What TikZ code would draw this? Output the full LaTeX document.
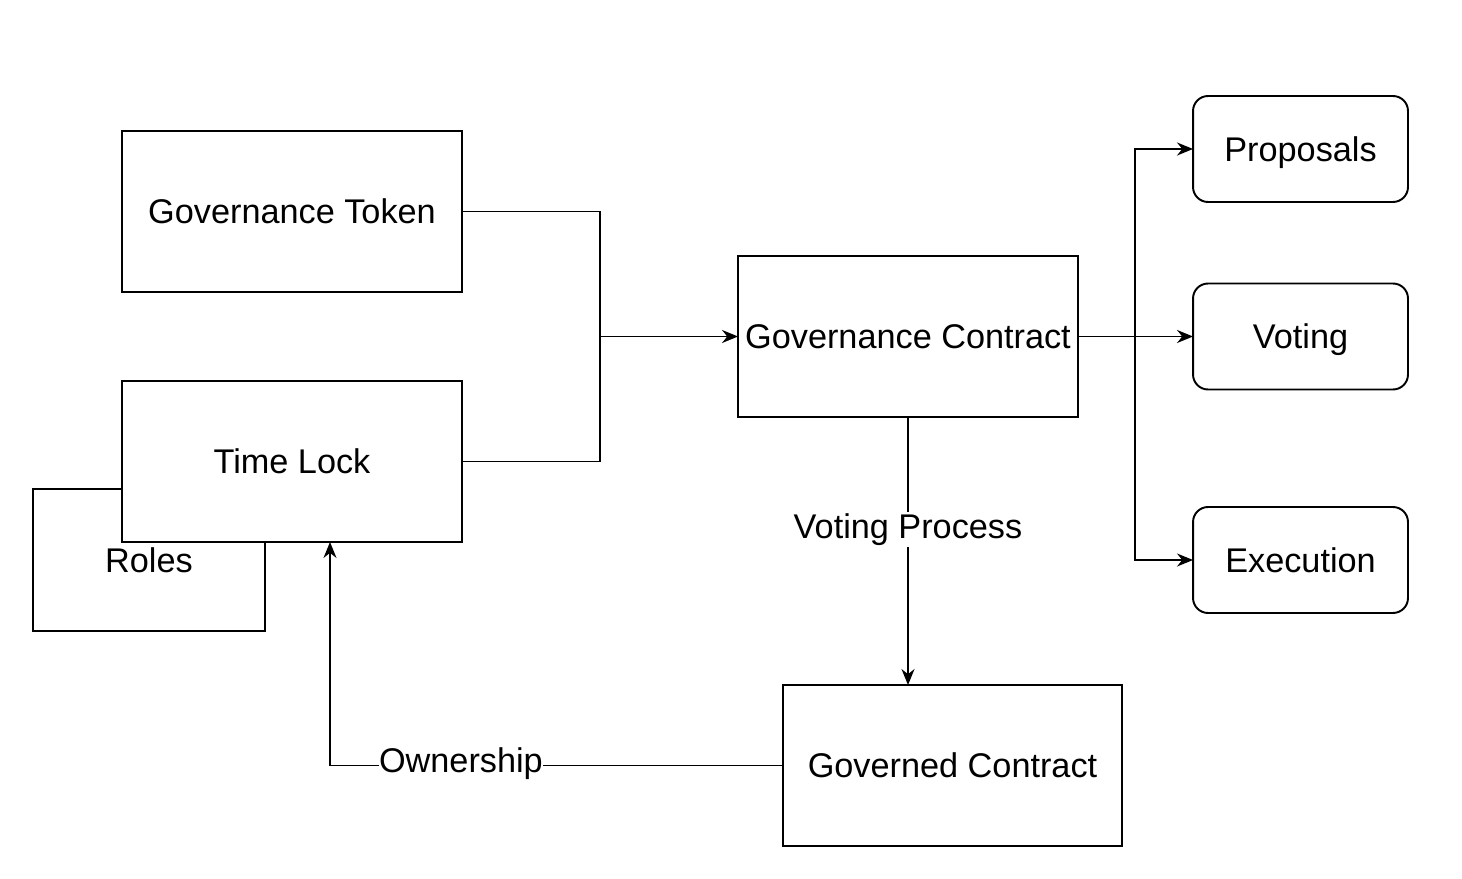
\documentclass[tikz,border=0pt]{standalone}
\usepackage{fontspec}
\setmainfont{Liberation Sans}
\usetikzlibrary{arrows.meta}
\begin{document}
\begin{tikzpicture}[x=0.02cm,y=-0.02cm,
  box/.style={draw,line width=1.1pt,fill=white,inner sep=0pt,outer sep=0pt,
    minimum width=6.8cm,minimum height=3.22cm,font=\fontsize{19.5}{22}\selectfont,
    text height=14pt,text depth=0pt},
  rbox/.style={box,rounded corners=0.3cm,minimum width=4.3cm,minimum height=2.12cm},
  conn/.style={line width=1.1pt},
  arr/.style={conn,-{Stealth[length=0.32cm,width=0.26cm]}},
  lbl/.style={fill=white,inner sep=1pt,font=\fontsize{19.5}{22}\selectfont,
    text height=14pt,text depth=4pt}]
\useasboundingbox (0,0) rectangle (1462,878);
\node[box,minimum width=4.64cm,minimum height=2.84cm] (roles) at (149,560) {Roles};
\node[box] (gt) at (292,211.5) {Governance Token};
\node[box] (tl) at (292,461.5) {Time Lock};
\node[box] (gc) at (908,336.5) {Governance Contract};
\node[box,minimum width=6.78cm] (gov) at (952.5,765.5) {Governed Contract};
\node[rbox] (prop) at (1300.5,149) {Proposals};
\node[rbox] (vot) at (1300.5,336.5) {Voting};
\node[rbox] (exe) at (1300.5,560) {Execution};
\coordinate (j) at (600,336.5);
\coordinate (b) at (1135,336.5);
\coordinate (o) at (330,765.5);
\draw[conn] (gt.east) -| (j);
\draw[conn] (tl.east) -| (j);
\draw[arr] (j) -- (gc.west);
\draw[arr] (gc.east) -- (vot.west);
\draw[arr] (b) |- (prop.west);
\draw[arr] (b) |- (exe.west);
\draw[arr] (gc.south) -- node[lbl,pos=0.42]{Voting Process} (gc.south |- gov.north);
\draw[arr] (gov.west) -- node[lbl,pos=0.711,inner sep=0pt,yshift=0.03cm]{Ownership} (o) -- (o |- tl.south);
\end{tikzpicture}
\end{document}
